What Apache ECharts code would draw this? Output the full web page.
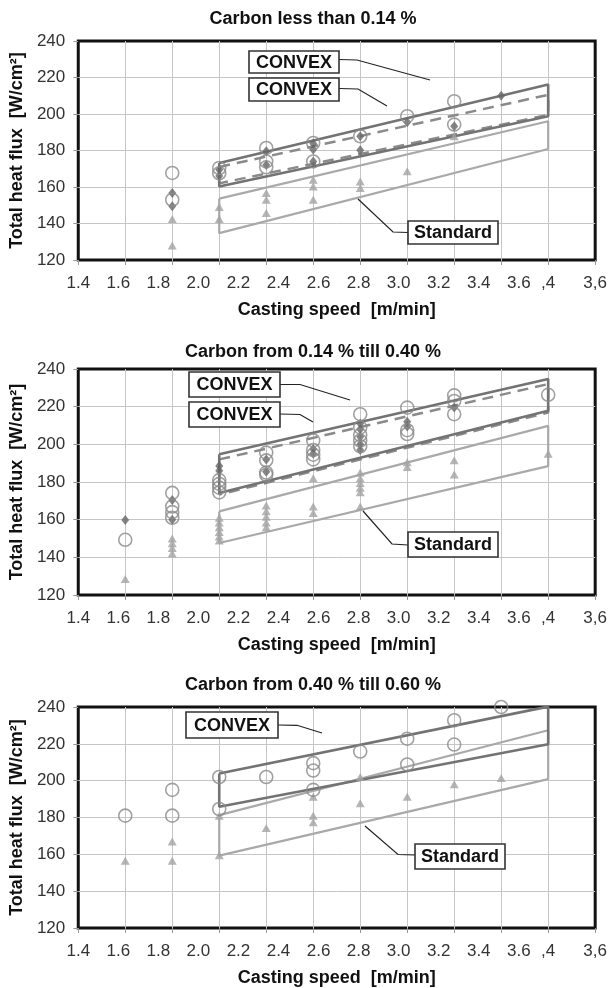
<!DOCTYPE html>
<html>
<head>
<meta charset="utf-8">
<script src="https://cdn.jsdelivr.net/npm/echarts@6/dist/echarts.min.js"></script>
<style>
html,body{margin:0;padding:0;background:#fff;}
#chart{width:610px;height:988px;}
</style>
</head>
<body>
<div id="chart"></div>
<script>
// ---------- DATA ----------
const titles = ['Carbon less than 0.14 %', 'Carbon from 0.14 % till 0.40 %', 'Carbon from 0.40 % till 0.60 %'];
const xTickLabels = ['1.4','1.6','1.8','2.0','2.2','2.4','2.6','2.8','3.0','3.2','3.4','3.6'];
const xTailLabels = {'3.4': ',4', '3.6': '3,6'};
const bandX = [2.0, 3.4];

// Panel 1: Carbon < 0.14 %
const p1ConvexSolidUpper = [173.2, 216.2];
const p1ConvexSolidLower = [160.3, 198.8];
const p1ConvexDashUpper = [171.0, 210.5];
const p1ConvexDashLower = [162.0, 199.5];
const p1StandardUpper = [153.6, 196.0];
const p1StandardLower = [134.7, 180.8];
const p1Circles = [[1.8,167.7],[1.8,153],[2.0,170.4],[2.0,167.5],[2.2,181.4],[2.2,174],[2.2,170.8],[2.4,184.1],[2.4,174],[2.6,187.8],[2.8,198.8],[3.0,207],[3.0,194.2]];
const p1Diamonds = [[1.8,156.7],[1.8,149.5],[2.0,169.5],[2.0,166],[2.2,179.6],[2.2,172],[2.4,183.8],[2.4,180.5],[2.4,174],[2.6,187.8],[2.6,180.1],[2.8,195.5],[3.0,193.3],[3.2,210]];
const p1Triangles = [[1.8,142.4],[1.8,128],[2.0,149],[2.0,142.4],[2.2,156.7],[2.2,153],[2.2,145.7],[2.4,164],[2.4,160.3],[2.4,153],[2.6,163],[2.6,159.5],[2.8,168.6],[3.0,187.8]];

// Panel 2: Carbon 0.14 - 0.40 %
const p2ConvexSolidUpper = [194.7, 234.7];
const p2ConvexSolidLower = [174.2, 217.8];
const p2ConvexDashUpper = [192.0, 232.0];
const p2ConvexDashLower = [173.3, 216.9];
const p2StandardUpper = [164.4, 209.8];
const p2StandardLower = [147.6, 188.4];
const p2Circles = [[1.6,149.3],[1.8,174.2],[1.8,167],[1.8,164],[1.8,161],[2.0,181],[2.0,179],[2.0,177],[2.0,174.5],[2.2,195.6],[2.2,191.5],[2.2,185],[2.2,183.8],[2.4,202.1],[2.4,197],[2.4,194.5],[2.4,192],[2.6,216],[2.6,209],[2.6,205],[2.6,202],[2.6,199],[2.8,219.5],[2.8,207.5],[2.8,205.5],[3.0,226],[3.0,223],[3.0,216],[3.4,226.3]];
const p2Diamonds = [[1.6,159.8],[1.8,170.5],[1.8,160],[2.0,188.5],[2.0,186],[2.2,192],[2.2,185.5],[2.4,197.5],[2.4,195],[2.6,211],[2.6,208],[2.6,204],[2.6,200],[2.6,197],[2.8,212],[2.8,209.5],[3.0,219.5]];
const p2Triangles = [[1.6,128.5],[1.8,150],[1.8,147.5],[1.8,145],[1.8,142],[2.0,161],[2.0,158.5],[2.0,156],[2.0,153.5],[2.0,151],[2.0,149],[2.2,167.5],[2.2,164.5],[2.2,161.5],[2.2,158.5],[2.2,156],[2.4,182],[2.4,167],[2.4,163.5],[2.6,185],[2.6,182],[2.6,179.5],[2.6,177],[2.6,174.5],[2.6,167],[2.8,190.5],[2.8,188],[3.0,191.5],[3.0,184],[3.4,195]];

// Panel 3: Carbon 0.40 - 0.60 %
const p3ConvexUpper = [203.9, 240.2];
const p3ConvexLower = [185.8, 219.8];
const p3StandardUpper = [181.3, 227.4];
const p3StandardLower = [159.3, 200.8];
const p3Circles = [[1.6,181],[1.8,195],[1.8,181],[2.0,202],[2.0,184.6],[2.2,202],[2.4,209.5],[2.4,205.5],[2.4,195],[2.6,215.8],[2.8,222.8],[2.8,208.8],[3.0,232.8],[3.0,219.6],[3.2,240]];
const p3Triangles = [[1.6,156.5],[1.8,167],[1.8,156.5],[2.0,181],[2.0,159.5],[2.2,174.3],[2.4,191.3],[2.4,181],[2.4,177.4],[2.6,202],[2.6,187.7],[2.8,191.3],[3.0,198],[3.2,201.5]];

// ---------- LAYOUT / STYLE ----------
const FONT = '"Liberation Sans", Arial, Helvetica, sans-serif';
const grids = [
  {left: 76, top: 41, width: 521, height: 219},
  {left: 75, top: 369, width: 522, height: 226},
  {left: 74, top: 707, width: 523, height: 221}
];
const titleY = [19.5, 352, 685];

function band(x, up, lo) {
  return [[x[0], up[0]], [x[1], up[1]], [x[1], lo[1]], [x[0], lo[0]], [x[0], up[0]]];
}

const option = {
  backgroundColor: '#fff',
  animation: false,
  grid: grids.map(g => Object.assign({show: true, borderColor: '#111', borderWidth: 3, backgroundColor: 'transparent'}, g)),
  xAxis: [],
  yAxis: [],
  series: [],
  graphic: []
};

grids.forEach((g, k) => {
  // main axis (grid lines, original tail labels)
  option.xAxis.push({
    gridIndex: k, type: 'value', position: 'bottom', min: 1.4, max: 3.6, interval: 0.2,
    axisLine: {show: false},
    axisTick: {show: true, length: 5, lineStyle: {color: '#999'}},
    splitLine: {show: true, showMinLine: false, showMaxLine: false, lineStyle: {color: '#c6c6c6', width: 1}},
    axisLabel: {
      margin: 15, fontSize: 17, color: '#333', fontFamily: FONT,
      formatter: v => xTailLabels[v.toFixed(1)] || ''
    },
    name: 'Casting speed  [m/min]', nameLocation: 'middle', nameGap: 41,
    nameTextStyle: {fontSize: 18, fontWeight: 'bold', color: '#111', fontFamily: FONT}
  });
  // overlay label axis
  option.xAxis.push({
    gridIndex: k, type: 'value', position: 'bottom', min: 1.4, max: 3.9815, interval: 0.2,
    axisLine: {show: false}, axisTick: {show: false}, splitLine: {show: false},
    axisLabel: {
      margin: 15, fontSize: 17, color: '#333', fontFamily: FONT, showMaxLabel: false,
      formatter: v => { const s = v.toFixed(1); return xTickLabels.indexOf(s) >= 0 && v < 3.65 ? s : ''; }
    }
  });
  option.yAxis.push({
    gridIndex: k, type: 'value', min: 120, max: 240, interval: 20,
    axisLine: {show: false},
    axisTick: {show: true, length: 5, lineStyle: {color: '#999'}},
    splitLine: {show: true, showMinLine: false, showMaxLine: false, lineStyle: {color: '#c6c6c6', width: 1}},
    axisLabel: {margin: 13, fontSize: 17, color: '#333', fontFamily: FONT},
    name: 'Total heat flux  [W/cm²]', nameLocation: 'middle', nameGap: 47, nameRotate: 90,
    nameTextStyle: {fontSize: 18, fontWeight: 'bold', color: '#111', fontFamily: FONT}
  });
  option.graphic.push({
    type: 'text', z: 100,
    style: {x: 313, y: titleY[k], text: titles[k], align: 'center', verticalAlign: 'middle',
      textAlign: 'center', textVerticalAlign: 'middle',
      font: 'bold 18px ' + FONT, fill: '#111'}
  });
});

function lineSeries(k, data, color, width, dashed) {
  return {
    type: 'line', xAxisIndex: 2 * k, yAxisIndex: k, data: data, symbol: 'none',
    lineStyle: {color: color, width: width, type: dashed ? [11, 7] : 'solid'},
    z: 3, silent: true
  };
}
function scatterSeries(k, data, symbol, size, style) {
  return {
    type: 'scatter', xAxisIndex: 2 * k, yAxisIndex: k, data: data, symbol: symbol,
    symbolSize: size, itemStyle: style, z: 4, silent: true
  };
}
const C_STD = '#a9a9a9', C_CVX = '#737373', C_DASH = '#8a8a8a';
const triStyle = {color: '#a2a2a2'};
const diaStyle = {color: '#666'};
const cirStyle = {color: 'rgba(0,0,0,0)', borderColor: '#8a8a8a', borderWidth: 1.6};

// Panel 1
option.series.push(lineSeries(0, band(bandX, p1StandardUpper, p1StandardLower), C_STD, 2.2));
option.series.push(lineSeries(0, band(bandX, p1ConvexDashUpper, p1ConvexDashLower), C_DASH, 2.5, true));
option.series.push(lineSeries(0, band(bandX, p1ConvexSolidUpper, p1ConvexSolidLower), C_CVX, 2.6));
option.series.push(scatterSeries(0, p1Triangles, 'triangle', [9, 8], triStyle));
option.series.push(scatterSeries(0, p1Diamonds, 'diamond', [8, 10], diaStyle));
option.series.push(scatterSeries(0, p1Circles, 'circle', 13, cirStyle));
// Panel 2
option.series.push(lineSeries(1, band(bandX, p2StandardUpper, p2StandardLower), C_STD, 2.2));
option.series.push(lineSeries(1, band(bandX, p2ConvexDashUpper, p2ConvexDashLower), C_DASH, 2.5, true));
option.series.push(lineSeries(1, band(bandX, p2ConvexSolidUpper, p2ConvexSolidLower), C_CVX, 2.6));
option.series.push(scatterSeries(1, p2Triangles, 'triangle', [9, 8], triStyle));
option.series.push(scatterSeries(1, p2Diamonds, 'diamond', [8, 10], diaStyle));
option.series.push(scatterSeries(1, p2Circles, 'circle', 13, cirStyle));
// Panel 3
option.series.push(lineSeries(2, band(bandX, p3StandardUpper, p3StandardLower), C_STD, 2.2));
option.series.push(lineSeries(2, band(bandX, p3ConvexUpper, p3ConvexLower), C_CVX, 2.6));
option.series.push(scatterSeries(2, p3Triangles, 'triangle', [9, 8], triStyle));
option.series.push(scatterSeries(2, p3Circles, 'circle', 13, cirStyle));

// ---------- ANNOTATIONS ----------
function labelBox(x, y, w, h, text) {
  return [
    {type: 'rect', z: 100, zlevel: 0, shape: {x: x, y: y, width: w, height: h},
      style: {fill: '#fff', stroke: '#333', lineWidth: 1.6}},
    {type: 'text', z: 101, zlevel: 0, style: {x: x + w / 2, y: y + h / 2 + 1, text: text,
      align: 'center', verticalAlign: 'middle', textAlign: 'center', textVerticalAlign: 'middle',
      font: 'bold 18px ' + FONT, fill: '#111'}}
  ];
}
function leader(points) {
  return {type: 'polyline', z: 99, shape: {points: points}, style: {stroke: '#222', lineWidth: 1.2, fill: null}};
}
option.graphic.push(
  ...labelBox(249, 51, 90, 22, 'CONVEX'), leader([[339, 59.5], [357, 60], [430, 80]]),
  ...labelBox(249, 78, 90, 23, 'CONVEX'), leader([[339, 88.5], [358, 89], [387, 106]]),
  ...labelBox(408, 221, 90, 23, 'Standard'), leader([[408, 232.5], [393, 232], [358, 199]]),

  ...labelBox(189, 372, 91, 25, 'CONVEX'), leader([[280, 384.5], [300, 384.5], [350, 400]]),
  ...labelBox(189, 402, 91, 25, 'CONVEX'), leader([[280, 414], [300, 414.5], [313, 422]]),
  ...labelBox(408, 532, 90, 25, 'Standard'), leader([[408, 545], [392, 544], [363, 511]]),

  ...labelBox(186, 712, 92, 26, 'CONVEX'), leader([[278, 725], [297, 725.3], [322, 733]]),
  ...labelBox(415, 844, 90, 25, 'Standard'), leader([[415, 855], [398, 854.5], [365, 826]])
);

const chart = echarts.init(document.getElementById('chart'), null, {renderer: 'canvas'});
chart.setOption(option);
</script>
</body>
</html>
